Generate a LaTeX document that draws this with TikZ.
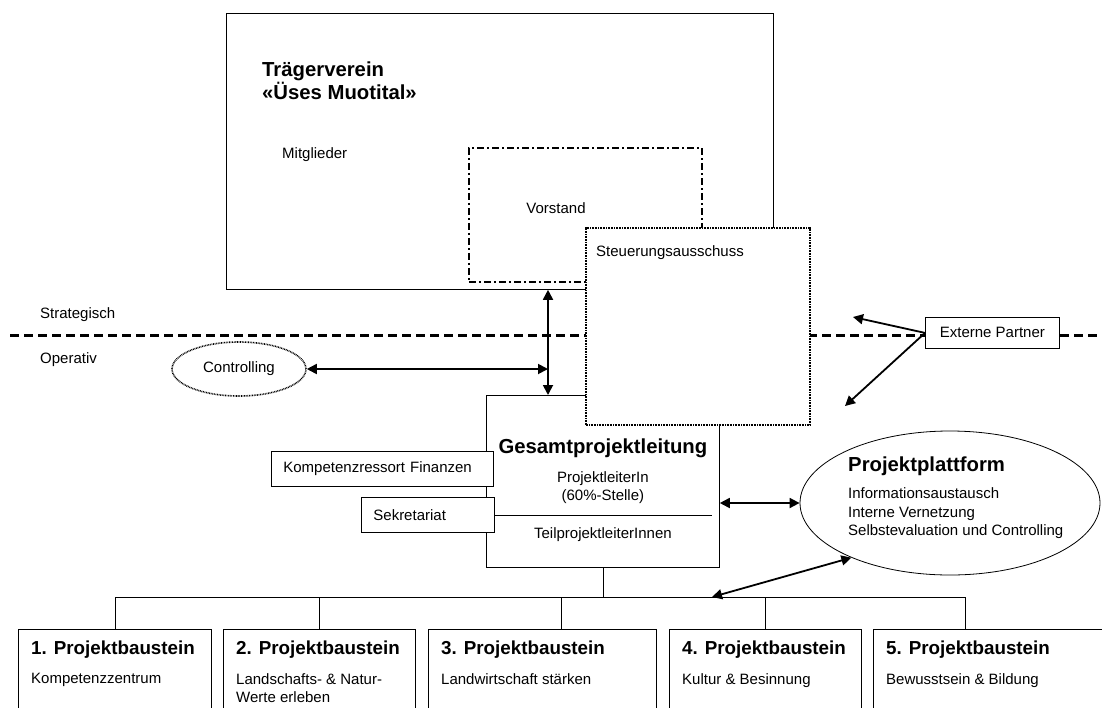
\documentclass[tikz,border=0pt]{standalone}
\usepackage{fontspec}
\setmainfont{Liberation Sans}
\usepackage{tikz}
\usetikzlibrary{
  shapes.geometric,
  arrows.meta,
  positioning,
  calc
}
\newcommand{\orgbody}{\fontsize{15}{18.5}\selectfont}
\newcommand{\orghead}{\fontsize{20.3}{23}\selectfont\bfseries}
\newcommand{\orgpbhead}{\fontsize{18.8}{22}\selectfont\bfseries}
\tikzset{
  orgbox/.style={
    rectangle, draw=black, fill=white, line width=0.8pt,
    inner sep=0pt, anchor=north west
  },
  bodytext/.style={inner sep=0pt, font=\orgbody},
  headtext/.style={inner sep=0pt, font=\orghead, align=left},
  pbtitle/.style={inner sep=0pt, font=\orgpbhead},
  arrow/.style={-{Triangle[length=10pt, width=10pt]}, line width=1.8pt},
  dblarrow/.style={{Triangle[length=10pt, width=10pt]}-{Triangle[length=10pt, width=10pt]}, line width=1.8pt},
  levelline/.style={line width=3pt, dash pattern=on 9pt off 5pt},
  dotline/.style={line width=1.6pt, dash pattern=on 0.8pt off 0.8pt},
  dashdotline/.style={line width=1.8pt, dash pattern=on 7pt off 3pt on 2pt off 3pt},
  orgline/.style={line width=0.8pt},
}
\begin{document}
\begin{tikzpicture}[x=1pt, y=-1pt]
\useasboundingbox (0,0) rectangle (1102,707);

% Traegerverein
\node[orgbox, minimum width=547pt, minimum height=276pt] (traeger) at (226,13) {};
\node[headtext, anchor=west] (traegertitle) at (262,81) {Trägerverein\\«Üses Muotital»};
\node[bodytext, anchor=west] (mitglieder) at (282,155) {Mitglieder};
\node[orgbox, fill=none, dashdotline, minimum width=233pt, minimum height=134pt] (vorstand) at (468,147) {};
\node[bodytext] (vorstandlabel) at (556,208) {Vorstand};

% Gesamtprojektleitung
\node[orgbox, minimum width=233pt, minimum height=172pt] (gpl) at (486,395) {};
\node[headtext, below=44pt of gpl.north] (gpltitle) {Gesamtprojektleitung};
\node[bodytext, align=center, below=76pt of gpl.north] (gpllead) {ProjektleiterIn\\(60\%-Stelle)};
\node[bodytext, below=132pt of gpl.north] (gplteil) {TeilprojektleiterInnen};
\node[orgbox, minimum height=35pt, text width=198pt, inner xsep=12pt, align=left, font=\orgbody] (kfin) at (271,451) {Kompetenzressort Finanzen};
\node[orgbox, minimum height=35pt, text width=109pt, inner xsep=12pt, align=left, font=\orgbody] (sekr) at (361,497) {Sekretariat};
\coordinate (gplinner) at ([xshift=-8pt]gpl.east);
\draw[orgline] (sekr.east) -- (gplinner |- sekr.east);

% Level line
\coordinate (lvlL) at (10,335);
\coordinate (lvlR) at (1102,335);
\draw[levelline] (lvlL) -- (lvlR);
\node[bodytext, anchor=west] (strat) at (40,315) {Strategisch};
\node[bodytext, anchor=west] (oper) at (40,360) {Operativ};

% Steuerungsausschuss
\node[orgbox, dotline, minimum width=224pt, minimum height=197pt] (steuer) at (585,227) {};
\node[bodytext, anchor=west] (steuerlabel) at (596,253) {Steuerungsausschuss};

% Controlling
\node[ellipse, draw, dotline, minimum width=134pt, minimum height=54pt, inner sep=0pt, font=\orgbody] (ctrl) at (239,369) {Controlling};

% Externe Partner
\node[orgbox, minimum width=134pt, minimum height=31pt, font=\orgbody] (ext) at (925,317) {Externe Partner};
\coordinate (extA) at (853,317);
\coordinate (extB) at (845,406);

% Projektplattform
\node[ellipse, draw, line width=0.8pt, minimum width=300pt, minimum height=144pt, inner sep=0pt] (pp) at (950,503) {};
\node[headtext, anchor=west] (pptitle) at ([xshift=-102pt, yshift=37pt]pp.center) {Projektplattform};
\node[bodytext, align=left, anchor=west] (pplist) at ([xshift=-102pt, yshift=-10.5pt]pp.center) {Informationsaustausch\\Interne Vernetzung\\Selbstevaluation und Controlling};

% Projektbausteine
\node[orgbox, minimum width=193pt, minimum height=90pt] (pb1) at (18,629) {};
\node[orgbox, minimum width=192pt, minimum height=90pt] (pb2) at (223,629) {};
\node[orgbox, minimum width=228pt, minimum height=90pt] (pb3) at (428,629) {};
\node[orgbox, minimum width=192pt, minimum height=90pt] (pb4) at (669,629) {};
\node[orgbox, minimum width=240pt, minimum height=90pt] (pb5) at (873,629) {};
\node[pbtitle, below right=12pt and 13pt of pb1.north west] (pb1t) {1. Projektbaustein};
\node[pbtitle, below right=12pt and 13pt of pb2.north west] (pb2t) {2. Projektbaustein};
\node[pbtitle, below right=12pt and 13pt of pb3.north west] (pb3t) {3. Projektbaustein};
\node[pbtitle, below right=12pt and 13pt of pb4.north west] (pb4t) {4. Projektbaustein};
\node[pbtitle, below right=12pt and 13pt of pb5.north west] (pb5t) {5. Projektbaustein};
\node[bodytext, align=left, below right=44pt and 13pt of pb1.north west] (pb1s) {Kompetenzzentrum};
\node[bodytext, align=left, below right=44pt and 13pt of pb2.north west] (pb2s) {Landschafts- \& Natur-\\Werte erleben};
\node[bodytext, align=left, below right=44pt and 13pt of pb3.north west] (pb3s) {Landwirtschaft stärken};
\node[bodytext, align=left, below right=44pt and 13pt of pb4.north west] (pb4s) {Kultur \& Besinnung};
\node[bodytext, align=left, below right=44pt and 13pt of pb5.north west] (pb5s) {Bewusstsein \& Bildung};

% Tree lines
\coordinate (bus) at (0,597);
\coordinate (drop3) at ([xshift=19pt]pb3.north);
\coordinate (drop5) at ([xshift=-28pt]pb5.north);
\draw[orgline] (gpl.south) -- (gpl.south |- bus);
\draw[orgline] (pb1.north) |- (drop5 |- bus) -- (drop5);
\draw[orgline] (pb2.north) -- (pb2.north |- bus);
\draw[orgline] (drop3) -- (drop3 |- bus);
\draw[orgline] (pb4.north) -- (pb4.north |- bus);
\coordinate (busA) at (712,597);

% Arrows
\coordinate (vx) at (548,0);
\draw[dblarrow] (traeger.south -| vx) -- (gpl.north -| vx);
\draw[dblarrow] (ctrl.east) -- (ctrl.east -| vx);
\draw[dblarrow] (gpl.east |- pp.west) -- (pp.west);
\draw[dblarrow] (busA) -- (pp.209);
\draw[arrow] (ext.west) -- (extA);
\draw[arrow] (ext.west) -- (extB);

\end{tikzpicture}
\end{document}
